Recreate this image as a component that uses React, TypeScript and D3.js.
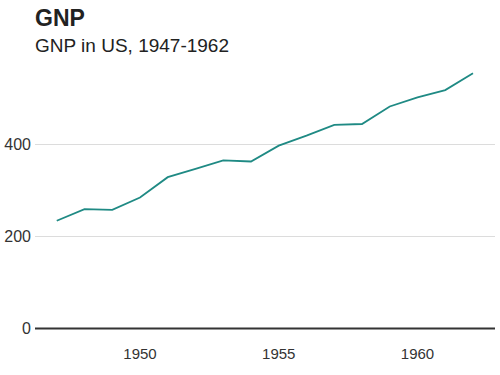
import React from "react";
import * as d3 from "d3";

const years = [1947, 1948, 1949, 1950, 1951, 1952, 1953, 1954, 1955, 1956, 1957, 1958, 1959, 1960, 1961, 1962];
const gnp = [234.289, 259.426, 258.054, 284.599, 328.975, 346.999, 365.385, 363.112, 397.469, 419.18, 442.769, 444.546, 482.704, 502.601, 518.173, 554.894];
const xTicks = [1950, 1955, 1960];
const yTicks = [0, 200, 400];

const W = 500, H = 375;
const FONT = "'Liberation Sans', Arial, sans-serif";

export default function App() {
  const x = d3.scaleLinear().domain([1947, 1962]).range([56.75, 473]);
  const y = d3.scaleLinear().domain([0, 400]).range([328.5, 144.5]);
  const line = d3.line<number>().x((_, i) => x(years[i])).y((d) => y(d));
  const data = gnp;
  return (
    <svg width={W} height={H} style={{ position: "absolute", left: 0, top: 0, background: "#fff" }}>
      <text x={35} y={26} fontFamily={FONT} fontWeight="bold" fontSize={23} fill="#222">GNP</text>
      <text x={35} y={52} fontFamily={FONT} fontSize={19} fill="#222">GNP in US, 1947-1962</text>
      {yTicks.map((t) => (
        <g key={t}>
          {t !== 0 && <line x1={35} x2={495} y1={y(t)} y2={y(t)} stroke="#dcdcdc" strokeWidth={1} />}
          <text x={31} y={y(t)} dy="0.35em" textAnchor="end" fontFamily={FONT} fontSize={16} fill="#333">{t}</text>
        </g>
      ))}
      <path d={line(data) || ""} fill="none" stroke="#1f8a84" strokeWidth={1.8} />
      <line x1={35} x2={495} y1={y(0)} y2={y(0)} stroke="#333" strokeWidth={1.8} />
      {xTicks.map((t) => (
        <text key={t} x={x(t)} y={354} dy="0.35em" textAnchor="middle" fontFamily={FONT} fontSize={15} fill="#333">{t}</text>
      ))}
    </svg>
  );
}
